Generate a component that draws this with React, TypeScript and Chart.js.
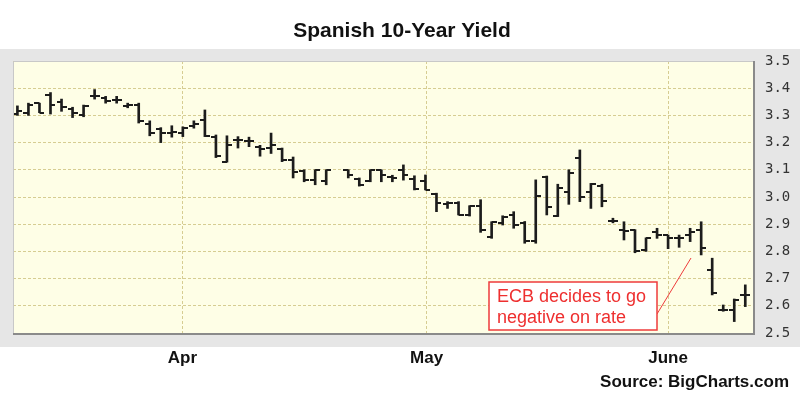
import React, { useEffect, useRef } from "react";
import { Chart, registerables } from "chart.js";
Chart.register(...registerables);

// Daily OHLC of the Spanish 10-year yield (trading-day index; null = no trading)
const opens = [
  3.305, 3.31, 3.345, 3.375, 3.35, 3.325, 3.3, 3.37, 3.365, 3.355, 3.335, 3.34, 3.27, 3.25, 3.235, 3.235, 3.26,
  3.283, 3.22, 3.13, 3.21, 3.205, 3.185, 3.18, 3.175, 3.135, 3.095, 3.062, 3.06, null, 3.1, 3.065, 3.06, 3.098,
  3.075, 3.1, 3.065, 3.06, 3.01, 2.975, 2.977, 2.934, 2.968, 2.854, 2.905, 2.934, 2.905, 2.84, 3.075, 2.931,
  3.02, 3.145, 3.02, 3.04, 2.913, 2.88, 2.879, 2.805, 2.873, 2.86, 2.848, 2.86, 2.879, 2.732, 2.585, 2.585, 2.64,
];
const highs = [
  3.335, 3.345, 3.345, 3.384, 3.36, 3.33, 3.338, 3.395, 3.37, 3.37, 3.345, 3.345, 3.28, 3.255, 3.262, 3.258, 3.28,
  3.32, 3.228, 3.225, 3.222, 3.22, 3.19, 3.235, 3.18, 3.147, 3.1, 3.1, 3.1, null, 3.1, 3.07, 3.1, 3.1,
  3.08, 3.118, 3.078, 3.081, 3.014, 2.983, 2.983, 2.968, 2.99, 2.909, 2.931, 2.946, 2.91, 3.063, 3.077, 3.047,
  3.1, 3.173, 3.05, 3.047, 2.922, 2.909, 2.88, 2.85, 2.885, 2.86, 2.86, 2.885, 2.909, 2.775, 2.603, 2.625, 2.677,
];
const lows = [
  3.3, 3.3, 3.31, 3.305, 3.315, 3.292, 3.295, 3.36, 3.345, 3.345, 3.328, 3.272, 3.225, 3.2, 3.22, 3.222, 3.253,
  3.222, 3.145, 3.128, 3.18, 3.185, 3.15, 3.16, 3.13, 3.07, 3.056, 3.045, 3.045, null, 3.07, 3.04, 3.056, 3.056,
  3.056, 3.062, 3.026, 3.026, 2.946, 2.958, 2.934, 2.93, 2.87, 2.848, 2.897, 2.885, 2.83, 2.83, 2.934, 2.928,
  2.973, 2.983, 2.958, 2.964, 2.905, 2.842, 2.795, 2.8, 2.848, 2.81, 2.815, 2.836, 2.787, 2.64, 2.58, 2.542, 2.597,
];
const closes = [
  3.315, 3.34, 3.31, 3.34, 3.33, 3.31, 3.335, 3.372, 3.352, 3.357, 3.338, 3.28, 3.235, 3.235, 3.24, 3.252, 3.27,
  3.225, 3.15, 3.19, 3.21, 3.205, 3.175, 3.19, 3.135, 3.093, 3.062, 3.098, 3.098, null, 3.08, 3.045, 3.098, 3.08,
  3.07, 3.08, 3.03, 3.026, 2.977, 2.977, 2.934, 2.968, 2.879, 2.909, 2.925, 2.897, 2.84, 3.005, 2.964, 3.032,
  3.087, 3.0, 3.047, 2.985, 2.913, 2.875, 2.8, 2.85, 2.86, 2.848, 2.848, 2.873, 2.811, 2.646, 2.585, 2.621, 2.64,
];

// Month boundaries (first trading day index) and their labels
const monthPositions = [14.96, 37.1, 59];
const monthLabels = ["Apr", "May", "June"];

const yMin = 2.5;
const yMax = 3.5;
const yStep = 0.1;

const titleText = "Spanish 10-Year Yield";
const sourceText = "Source: BigCharts.com";
const noteLines = ["ECB decides to go", "negative on rate"];

export default function App() {
  const ref = useRef<HTMLCanvasElement>(null);

  useEffect(() => {
    document.body.style.margin = "0";
    const canvas = ref.current!;

    const mkTick = (side: "left" | "right") => {
      const c = document.createElement("canvas");
      c.width = 10;
      c.height = 2;
      const g = c.getContext("2d")!;
      g.fillStyle = "#1c1c1c";
      g.fillRect(side === "left" ? 0 : 5, 0, 5, 2);
      return c;
    };
    const openImg = mkTick("left");
    const closeImg = mkTick("right");

    const rangeData: any[] = [];
    const openData: any[] = [];
    const closeData: any[] = [];
    for (let i = 0; i < opens.length; i++) {
      if (highs[i] == null) continue;
      rangeData.push({ x: i, y: [lows[i], highs[i]] });
      openData.push({ x: i, y: opens[i] });
      closeData.push({ x: i, y: closes[i] });
    }

    const decor = {
      id: "decor",
      beforeDraw(chart: any) {
        const { ctx, chartArea: a } = chart;
        ctx.save();
        ctx.fillStyle = "#ffffff";
        ctx.fillRect(0, 0, 800, 398);
        ctx.fillStyle = "#e6e6e6";
        ctx.fillRect(0, 49, 800, 298);
        ctx.fillStyle = "#fefee6";
        ctx.fillRect(a.left, a.top, a.right - a.left, a.bottom - a.top);
        ctx.restore();
      },
      afterDraw(chart: any) {
        const { ctx, chartArea: a } = chart;
        ctx.save();
        // frame
        ctx.strokeStyle = "#c8c8c8";
        ctx.lineWidth = 1;
        ctx.beginPath();
        ctx.moveTo(a.left + 0.5, a.bottom);
        ctx.lineTo(a.left + 0.5, a.top + 0.5);
        ctx.lineTo(a.right, a.top + 0.5);
        ctx.stroke();
        ctx.strokeStyle = "#8a8a8a";
        ctx.lineWidth = 2;
        ctx.beginPath();
        ctx.moveTo(a.left, a.bottom + 1);
        ctx.lineTo(a.right + 1, a.bottom + 1);
        ctx.lineTo(a.right + 1, a.top);
        ctx.stroke();

        // title
        ctx.fillStyle = "#111111";
        ctx.font = "bold 21px 'Liberation Sans', Arial, sans-serif";
        ctx.textAlign = "center";
        ctx.textBaseline = "alphabetic";
        ctx.fillText(titleText, 402, 37);

        // source
        ctx.font = "bold 17px 'Liberation Sans', Arial, sans-serif";
        ctx.textAlign = "right";
        ctx.fillText(sourceText, 789, 387);

        // annotation
        ctx.strokeStyle = "#ee3b3b";
        ctx.lineWidth = 1;
        ctx.beginPath();
        ctx.moveTo(657, 314);
        ctx.lineTo(691, 258);
        ctx.stroke();
        ctx.fillStyle = "#ffffff";
        ctx.fillRect(489, 282, 168, 48);
        ctx.strokeStyle = "#ee3b3b";
        ctx.lineWidth = 1.5;
        ctx.strokeRect(489, 282, 168, 48);
        ctx.fillStyle = "#ee2f2f";
        ctx.font = "18px 'Liberation Sans', Arial, sans-serif";
        ctx.textAlign = "left";
        ctx.fillText(noteLines[0], 497, 302);
        ctx.fillText(noteLines[1], 497, 323);
        ctx.restore();
      },
    };

    const gridColor = "#d6cd92";

    const chart = new Chart(canvas, {
      type: "bar",
      data: {
        datasets: [
          {
            type: "bar",
            data: rangeData,
            backgroundColor: "#1c1c1c",
            borderWidth: 0,
            barThickness: 2,
            grouped: false,
          } as any,
          {
            type: "line",
            data: openData,
            showLine: false,
            pointStyle: openImg,
            pointRadius: 5,
          } as any,
          {
            type: "line",
            data: closeData,
            showLine: false,
            pointStyle: closeImg,
            pointRadius: 5,
          } as any,
        ],
      },
      options: {
        responsive: false,
        animation: false,
        devicePixelRatio: 1,
        layout: { padding: { left: 13, top: 61, right: 0, bottom: 25 } },
        plugins: { legend: { display: false }, tooltip: { enabled: false }, title: { display: false } },
        scales: {
          x: {
            type: "linear",
            min: -0.4,
            max: 66.7,
            offset: false,
            grid: { offset: false, color: gridColor, lineWidth: 1, drawTicks: false },
            border: { display: false, dash: [3, 2] },
            afterBuildTicks: (scale: any) => {
              scale.ticks = monthPositions.map((v) => ({ value: v }));
            },
            afterFit: (scale: any) => {
              scale.height = 40;
            },
            ticks: {
              autoSkip: false,
              maxRotation: 0,
              padding: 15,
              color: "#111111",
              font: { family: "'Liberation Sans', Arial, sans-serif", size: 17, weight: "bold" },
              callback: (_v: any, i: number) => monthLabels[i],
            },
          },
          y: {
            position: "right",
            min: yMin,
            max: yMax,
            grid: { color: gridColor, lineWidth: 1, drawTicks: false },
            border: { display: false, dash: [3, 2] },
            afterFit: (scale: any) => {
              scale.width = 47;
            },
            ticks: {
              stepSize: yStep,
              padding: 12,
              color: "#333333",
              font: { family: "'DejaVu Sans Mono', monospace", size: 14 },
              callback: (v: any) => Number(v).toFixed(1),
            },
          },
        },
      },
      plugins: [decor],
    });

    return () => chart.destroy();
  }, []);

  return (
    <div style={{ position: "absolute", left: 0, top: 0, width: 800, height: 398 }}>
      <canvas ref={ref} width={800} height={398} style={{ display: "block" }} />
    </div>
  );
}
